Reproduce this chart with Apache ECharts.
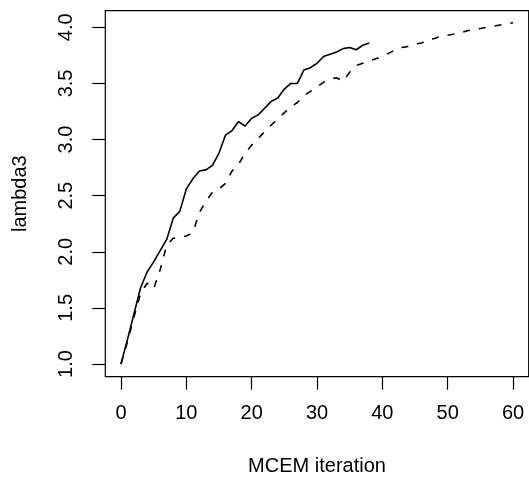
<!DOCTYPE html>
<html>
<head>
<meta charset="utf-8">
<script src="https://cdn.jsdelivr.net/npm/echarts@6/dist/echarts.min.js"></script>
<style>
html,body{margin:0;padding:0;background:#fff;}
#chart{width:529px;height:477px;}
</style>
</head>
<body>
<div id="chart"></div>
<script>
// MCEM iteration ticks
var xTicks = [0, 10, 20, 30, 40, 50, 60];
var yTicks = [1.0, 1.5, 2.0, 2.5, 3.0, 3.5, 4.0];

// solid run (iterations 0..38)
var solidValues = [1.00, 1.22, 1.45, 1.68, 1.82, 1.91, 2.01, 2.11, 2.30, 2.36,
  2.56, 2.65, 2.72, 2.73, 2.77, 2.88, 3.04, 3.08, 3.16, 3.12,
  3.19, 3.22, 3.28, 3.34, 3.37, 3.45, 3.50, 3.50, 3.62, 3.64,
  3.68, 3.74, 3.76, 3.78, 3.81, 3.82, 3.80, 3.84, 3.86];

// dashed run (iterations 0..60)
var dashedValues = [1.00, 1.20, 1.42, 1.63, 1.72, 1.67, 1.84, 2.06, 2.12, 2.13,
  2.14, 2.17, 2.35, 2.45, 2.53, 2.56, 2.61, 2.72, 2.78, 2.88,
  2.95, 3.01, 3.07, 3.13, 3.18, 3.24, 3.29, 3.33, 3.39, 3.43,
  3.47, 3.51, 3.54, 3.55, 3.52, 3.60, 3.66, 3.68, 3.70, 3.72,
  3.74, 3.77, 3.80, 3.82, 3.83, 3.85, 3.86, 3.89, 3.90, 3.92,
  3.93, 3.94, 3.95, 3.97, 3.98, 3.99, 4.00, 4.01, 4.02, 4.03, 4.04];

var xLabel = 'MCEM iteration';
var yLabel = 'lambda3';

var FONT = 'Liberation Sans, Arial, Helvetica, sans-serif';
var FS = 20;

var chart = echarts.init(document.getElementById('chart'), null, {renderer: 'canvas'});
chart.setOption({
  animation: false,
  backgroundColor: '#ffffff',
  grid: {
    left: 105.3, top: 10.7, width: 423.4, height: 366,
    outerBoundsMode: 'none', containLabel: false,
    show: true, borderColor: '#000', borderWidth: 1.2, backgroundColor: 'transparent'
  },
  xAxis: {
    type: 'value',
    min: -2.4, max: 62.4,
    axisLine: {show: false, onZero: false},
    splitLine: {show: false},
    axisTick: {show: true, inside: false, length: 13, customValues: xTicks,
      lineStyle: {color: '#000', width: 1.2}},
    axisLabel: {show: true, customValues: xTicks, margin: 27, color: '#000',
      fontFamily: FONT, fontSize: FS},
    name: xLabel, nameLocation: 'middle', nameGap: 80,
    nameTextStyle: {color: '#000', fontFamily: FONT, fontSize: FS}
  },
  yAxis: {
    type: 'value',
    min: 0.887, max: 4.148,
    axisLine: {show: false, onZero: false},
    splitLine: {show: false},
    axisTick: {show: true, inside: false, length: 13, customValues: yTicks,
      lineStyle: {color: '#000', width: 1.2}},
    axisLabel: {show: true, customValues: yTicks, margin: 29, rotate: 90, color: '#000',
      fontFamily: FONT, fontSize: FS, formatter: function (v) { return Number(v).toFixed(1); }},
    name: yLabel, nameLocation: 'middle', nameGap: 75, nameRotate: 90,
    nameTextStyle: {color: '#000', fontFamily: FONT, fontSize: FS}
  },
  series: [
    {
      type: 'line', showSymbol: false, silent: true,
      data: solidValues.map(function (v, i) { return [i, v]; }),
      lineStyle: {color: '#000', width: 1.6, type: 'solid'}
    },
    {
      type: 'line', showSymbol: false, silent: true,
      data: dashedValues.map(function (v, i) { return [i, v]; }),
      lineStyle: {color: '#000', width: 1.6, type: [7, 9]}
    }
  ]
});
</script>
</body>
</html>
